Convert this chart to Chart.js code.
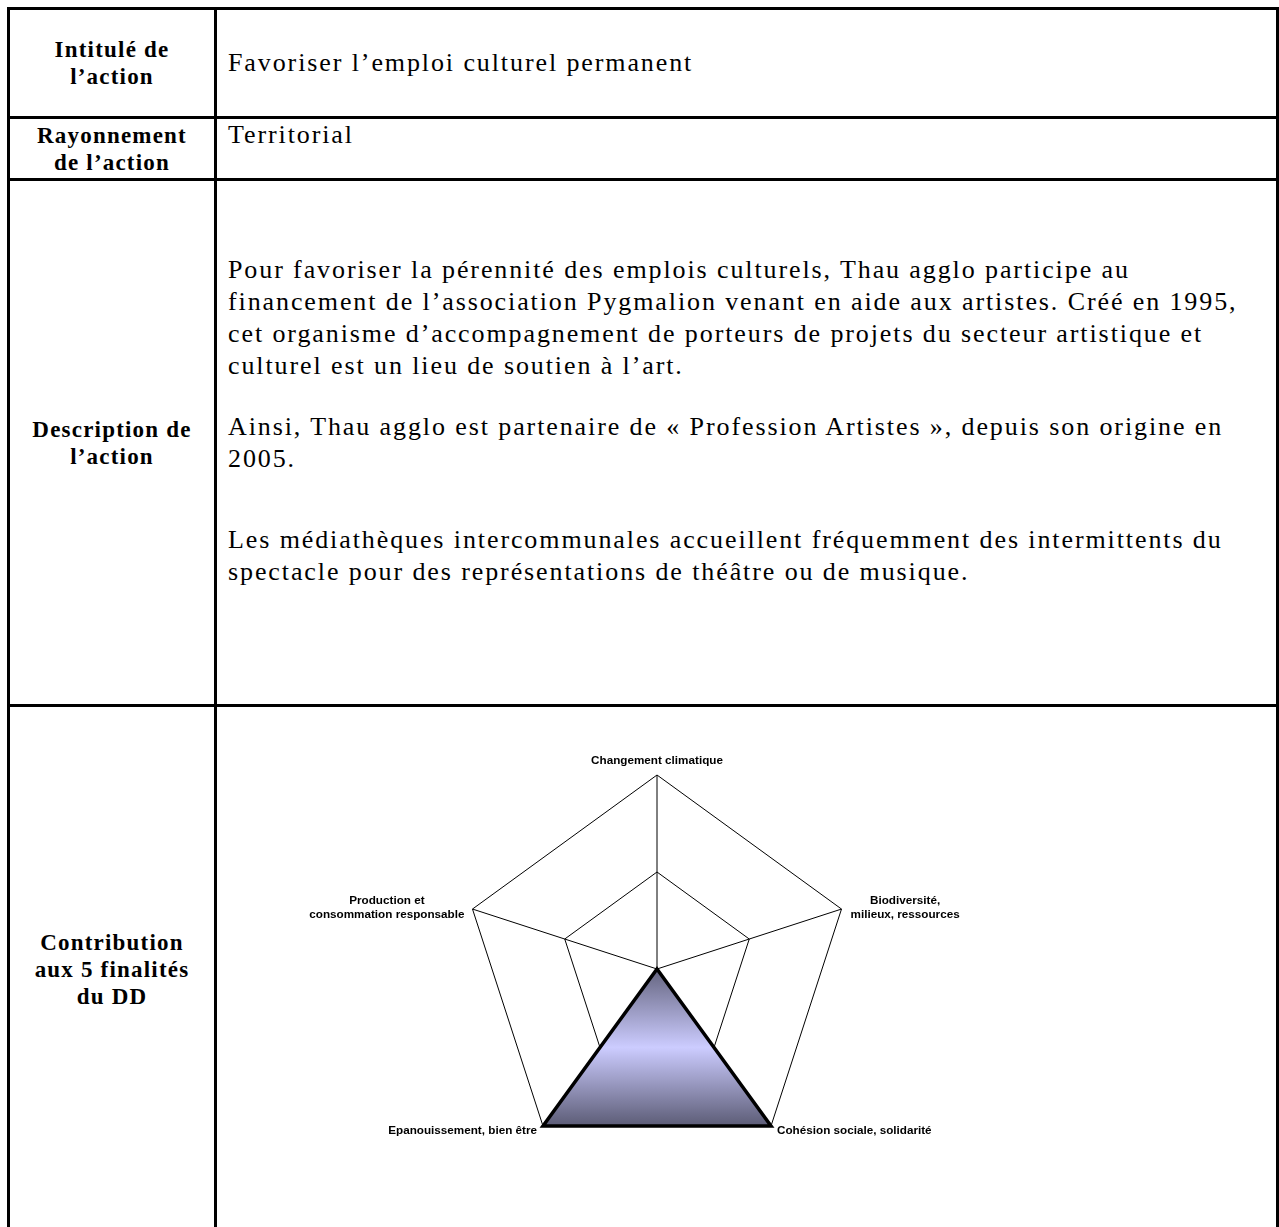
<!DOCTYPE html>
<html lang="fr">
<head>
<meta charset="utf-8">
<title>Favoriser l’emploi culturel permanent</title>
<script src="https://cdn.jsdelivr.net/npm/chart.js@4.4.1/dist/chart.umd.min.js"></script>
<style>
    body { margin: 0; background: #fff; width: 1279px; height: 1227px; overflow: hidden; position: relative; }
    .line { position: absolute; background: #000; }
    .lbl { position: absolute; left: 10px; width: 204px; display: flex; align-items: center; justify-content: center;
           text-align: center; font-family: "Liberation Serif", serif; font-weight: bold; font-size: 23px; line-height: 27px;
           letter-spacing: 1.2px; }
    .txt { position: absolute; left: 228px; font-family: "Liberation Serif", serif; font-size: 26px; line-height: 32px;
           white-space: nowrap; letter-spacing: 1.9px; }
    #radar { position: absolute; left: 263px; top: 735px; }
</style>
</head>
<body>
<div class="line" style="left:7px;top:7px;width:1272px;height:3px"></div>
<div class="line" style="left:7px;top:116px;width:1272px;height:3px"></div>
<div class="line" style="left:7px;top:178px;width:1272px;height:3px"></div>
<div class="line" style="left:7px;top:704px;width:1272px;height:3px"></div>
<div class="line" style="left:7px;top:7px;width:3px;height:1230px"></div>
<div class="line" style="left:214px;top:7px;width:3px;height:1230px"></div>
<div class="line" style="left:1276px;top:7px;width:3px;height:1230px"></div>

<div class="lbl" style="top:10px;height:106px">Intitulé de<br>l’action</div>
<div class="lbl" style="top:119px;height:59px">Rayonnement<br>de l’action</div>
<div class="lbl" style="top:181px;height:523px">Description de<br>l’action</div>
<div class="lbl" style="top:707px;height:524px">Contribution<br>aux 5 finalités<br>du DD</div>

<div class="txt" style="top:47px">Favoriser l’emploi culturel permanent</div>
<div class="txt" style="top:119px">Territorial</div>
<div class="txt" style="top:254px">Pour favoriser la pérennité des emplois culturels, Thau agglo participe au<br>financement de l’association Pygmalion venant en aide aux artistes. Créé en 1995,<br>cet organisme d’accompagnement de porteurs de projets du secteur artistique et<br>culturel est un lieu de soutien à l’art.</div>
<div class="txt" style="top:411px">Ainsi, Thau agglo est partenaire de « Profession Artistes », depuis son origine en<br>2005.</div>
<div class="txt" style="top:524px">Les médiathèques intercommunales accueillent fréquemment des intermittents du<br>spectacle pour des représentations de théâtre ou de musique.</div>

<canvas id="radar" width="788" height="468"></canvas>

<script>
// 5 finalités du développement durable
const finalites = [
    "Changement climatique",
    ["Biodiversité,", "milieux, ressources"],
    "Cohésion sociale, solidarité",
    "Epanouissement, bien être",
    ["Production et", "consommation responsable"]
];
const contribution = [0, 0, 2, 2, 0];
const echelle = [0, 1, 2];

// placement des libellés autour des sommets (décalage en px, alignement)
const placement = [
    { dx: 0, dy: -14, align: "center" },
    { dx: 9, dy: -1, align: "left" },
    { dx: 6, dy: 5, align: "left" },
    { dx: -6, dy: 5, align: "right" },
    { dx: -8, dy: -1, align: "right" }
];

function degrade(context) {
    let chart = context.chart;
    let r = chart.scales.r;
    if (!r || !chart.chartArea) {
        return "#ccccff";
    }
    let y0 = r.yCenter;
    let y1 = r.getPointPosition(2, r.drawingArea).y;
    let g = chart.ctx.createLinearGradient(0, y0, 0, y1);
    g.addColorStop(0, "#64647f");
    g.addColorStop(0.5, "#ccccff");
    g.addColorStop(1, "#5c5c76");
    return g;
}

const libelles = {
    id: "libelles",
    afterDraw(chart) {
        let r = chart.scales.r;
        let c = chart.ctx;
        let lh = 14;
        c.save();
        c.font = "bold 11.7px 'Liberation Sans'";
        c.fillStyle = "#000";
        c.textAlign = "center";
        c.textBaseline = "middle";
        chart.data.labels.forEach(function (lab, i) {
            let lines = Array.isArray(lab) ? lab : [lab];
            let p = r.getPointPosition(i, r.drawingArea);
            let pl = placement[i];
            let w = 0;
            for (let k = 0; k < lines.length; k++) {
                w = Math.max(w, c.measureText(lines[k]).width);
            }
            let cx = p.x + pl.dx;
            if (pl.align == "left") {
                cx += w / 2;
            }
            else if (pl.align == "right") {
                cx -= w / 2;
            }
            let cy = p.y + pl.dy - (lines.length - 1) * lh / 2;
            for (let k = 0; k < lines.length; k++) {
                c.fillText(lines[k], cx, cy + k * lh);
            }
        });
        c.restore();
    }
};

let ctx = document.getElementById("radar");
new Chart(ctx, {
    type: 'radar',
    data: {
        labels: finalites,
        datasets: [{
            label: "Contribution",
            data: contribution,
            backgroundColor: degrade,
            borderColor: "#000",
            borderWidth: 3.5,
            borderJoinStyle: "miter",
            pointRadius: 0,
            fill: true
        }]
    },
    options: {
        responsive: false,
        animation: false,
        layout: { padding: { left: 200, right: 200, top: 40, bottom: 40 } },
        plugins: {
            legend: { display: false },
            tooltip: { enabled: false }
        },
        scales: {
            r: {
                min: echelle[0],
                max: echelle[echelle.length - 1],
                ticks: { stepSize: 1, display: false },
                grid: { color: "#000", lineWidth: 1 },
                angleLines: { color: "#000", lineWidth: 1 },
                pointLabels: { display: false }
            }
        }
    },
    plugins: [libelles]
});
</script>
</body>
</html>
